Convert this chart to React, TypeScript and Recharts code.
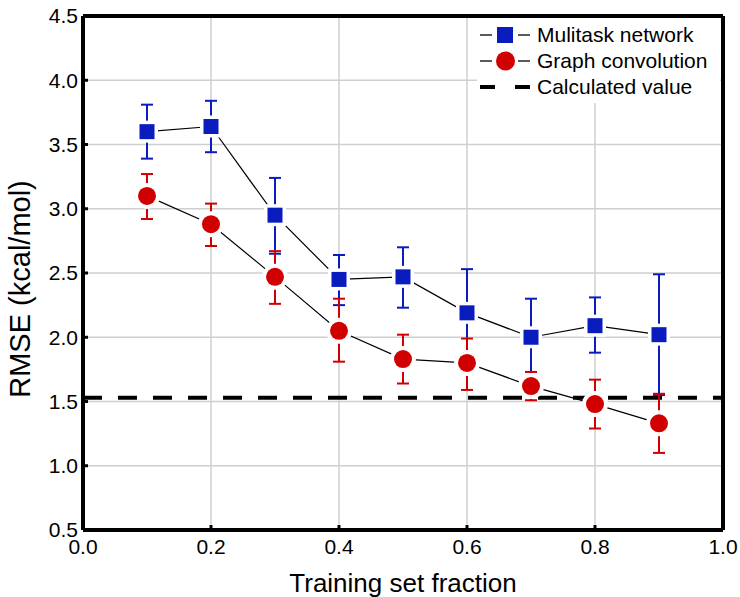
import React from 'react';
import {
  ComposedChart,
  Line,
  XAxis,
  YAxis,
  CartesianGrid,
  ErrorBar,
  ReferenceLine,
  Legend,
  Label,
} from 'recharts';

const fractions = [0.1, 0.2, 0.3, 0.4, 0.5, 0.6, 0.7, 0.8, 0.9];

const multitaskRmse = [3.6, 3.64, 2.95, 2.45, 2.47, 2.19, 2.0, 2.09, 2.02];
const multitaskLow = [3.39, 3.44, 2.65, 2.25, 2.23, 1.86, 1.7, 1.88, 1.55];
const multitaskHigh = [3.81, 3.84, 3.24, 2.64, 2.7, 2.53, 2.3, 2.31, 2.49];

const graphConvRmse = [3.1, 2.88, 2.47, 2.05, 1.83, 1.8, 1.62, 1.48, 1.33];
const graphConvLow = [2.92, 2.71, 2.26, 1.81, 1.64, 1.59, 1.51, 1.29, 1.1];
const graphConvHigh = [3.27, 3.04, 2.67, 2.3, 2.02, 1.99, 1.73, 1.67, 1.56];

const calculatedValue = 1.53;

const xTicks = [0, 0.2, 0.4, 0.6, 0.8, 1.0];
const yTicks = [0.5, 1.0, 1.5, 2.0, 2.5, 3.0, 3.5, 4.0, 4.5];

const BLUE = '#0a1cbe';
const RED = '#d10000';
const FONT = '"Liberation Sans", Arial, sans-serif';

const data = fractions.map((x, i) => ({
  x,
  mt: multitaskRmse[i],
  mtErr: [multitaskRmse[i] - multitaskLow[i], multitaskHigh[i] - multitaskRmse[i]],
  gc: graphConvRmse[i],
  gcErr: [graphConvRmse[i] - graphConvLow[i], graphConvHigh[i] - graphConvRmse[i]],
}));

// white patches so the connecting line stops short of each marker
const squareHalo = (p: any) =>
  p.cx == null ? null : (
    <rect key={`sh-${p.index}`} x={p.cx - 11} y={p.cy - 11} width={22} height={22} fill="#fff" />
  );
const circleHalo = (p: any) =>
  p.cx == null ? null : <circle key={`ch-${p.index}`} cx={p.cx} cy={p.cy} r={13} fill="#fff" />;

const squareDot = (p: any) =>
  p.cx == null ? null : (
    <rect key={`sq-${p.index}`} x={p.cx - 7.5} y={p.cy - 7.5} width={15} height={15} fill={BLUE} />
  );
const circleDot = (p: any) =>
  p.cx == null ? null : <circle key={`ci-${p.index}`} cx={p.cx} cy={p.cy} r={9} fill={RED} />;

const LegendBox = () => {
  const row = (icon: React.ReactNode, text: string) => (
    <div style={{ display: 'flex', alignItems: 'center', height: 26 }}>
      <svg width={57} height={26}>
        {icon}
      </svg>
      <span>{text}</span>
    </div>
  );
  return (
    <div
      style={{
        background: '#fff',
        width: 243,
        height: 85,
        boxSizing: 'border-box',
        padding: '4px 0 0 3px',
        fontFamily: FONT,
        fontSize: 21,
        color: '#000',
        lineHeight: '26px',
        whiteSpace: 'nowrap',
      }}
    >
      {row(
        <g>
          <line x1={0} x2={12} y1={13} y2={13} stroke="#000" strokeWidth={1.3} />
          <rect x={17} y={5} width={16} height={16} fill={BLUE} />
          <line x1={38} x2={50} y1={13} y2={13} stroke="#000" strokeWidth={1.3} />
        </g>,
        'Mulitask network'
      )}
      {row(
        <g>
          <line x1={0} x2={12} y1={13} y2={13} stroke="#000" strokeWidth={1.3} />
          <circle cx={25.5} cy={13} r={9.5} fill={RED} />
          <line x1={38} x2={50} y1={13} y2={13} stroke="#000" strokeWidth={1.3} />
        </g>,
        'Graph convolution'
      )}
      {row(
        <g>
          <line x1={0} x2={15} y1={13} y2={13} stroke="#000" strokeWidth={4} />
          <line x1={35} x2={50} y1={13} y2={13} stroke="#000" strokeWidth={4} />
        </g>,
        'Calculated value'
      )}
    </div>
  );
};

const YLabel = (props: any) => {
  const vb = props.viewBox || { x: 0, y: 16, width: 83, height: 514 };
  const x = vb.x + 30;
  const y = vb.y + vb.height / 2 + 16;
  return (
    <text
      x={x}
      y={y}
      transform={`rotate(-90 ${x} ${y})`}
      textAnchor="middle"
      fill="#000"
      fontSize={29}
      fontFamily={FONT}
    >
      RMSE (kcal/mol)
    </text>
  );
};

export default function App() {
  const tickStyle = { fill: '#000', fontSize: 21, fontFamily: FONT };
  return (
    <div style={{ position: 'absolute', left: 0, top: 0, width: 740, height: 597, background: '#fff' }}>
      <ComposedChart
        width={740}
        height={597}
        data={data}
        margin={{ top: 16, right: 17, bottom: 0, left: 0 }}
        style={{ fontFamily: FONT }}
      >
        <CartesianGrid stroke="#cfcfcf" strokeWidth={1.5} />
        <XAxis
          type="number"
          dataKey="x"
          domain={[0, 1]}
          ticks={xTicks}
          tickFormatter={(v: number) => v.toFixed(1)}
          height={67}
          axisLine={{ stroke: '#000', strokeWidth: 4 }}
          tickLine={{ stroke: '#000', strokeWidth: 3 }}
          tickSize={-5}
          tickMargin={14}
          tick={tickStyle}
          allowDataOverflow
        >
          <Label
            value="Training set fraction"
            position="insideBottom"
            offset={5}
            fill="#000"
            fontSize={26}
            fontFamily={FONT}
          />
        </XAxis>
        <YAxis
          type="number"
          domain={[0.5, 4.5]}
          ticks={yTicks}
          tickFormatter={(v: number) => v.toFixed(1)}
          width={83}
          axisLine={{ stroke: '#000', strokeWidth: 4 }}
          tickLine={{ stroke: '#000', strokeWidth: 3 }}
          tickSize={-5}
          tickMargin={10}
          tick={tickStyle}
          allowDataOverflow
          label={{ content: YLabel }}
        />
        <ReferenceLine y={4.5} stroke="#000" strokeWidth={4} />
        <ReferenceLine x={1} stroke="#000" strokeWidth={4} />
        <ReferenceLine
          y={calculatedValue}
          stroke="#000"
          strokeWidth={4}
          strokeDasharray="19 16"
        />
        <Line
          dataKey="mt"
          stroke="#000"
          strokeWidth={1.2}
          dot={squareHalo}
          activeDot={false}
          isAnimationActive={false}
          legendType="none"
        />
        <Line
          dataKey="gc"
          stroke="#000"
          strokeWidth={1.2}
          dot={circleHalo}
          activeDot={false}
          isAnimationActive={false}
          legendType="none"
        />
        <Line
          dataKey="mt"
          stroke="none"
          dot={squareDot}
          activeDot={false}
          isAnimationActive={false}
        >
          <ErrorBar dataKey="mtErr" direction="y" width={6} stroke={BLUE} strokeWidth={2} />
        </Line>
        <Line
          dataKey="gc"
          stroke="none"
          dot={circleDot}
          activeDot={false}
          isAnimationActive={false}
        >
          <ErrorBar dataKey="gcErr" direction="y" width={6} stroke={RED} strokeWidth={2} />
        </Line>
        <Legend
          layout="horizontal"
          align="center"
          verticalAlign="middle"
          content={<LegendBox />}
          wrapperStyle={{ top: 18, left: 477, width: 243, height: 85 }}
        />
      </ComposedChart>
    </div>
  );
}
